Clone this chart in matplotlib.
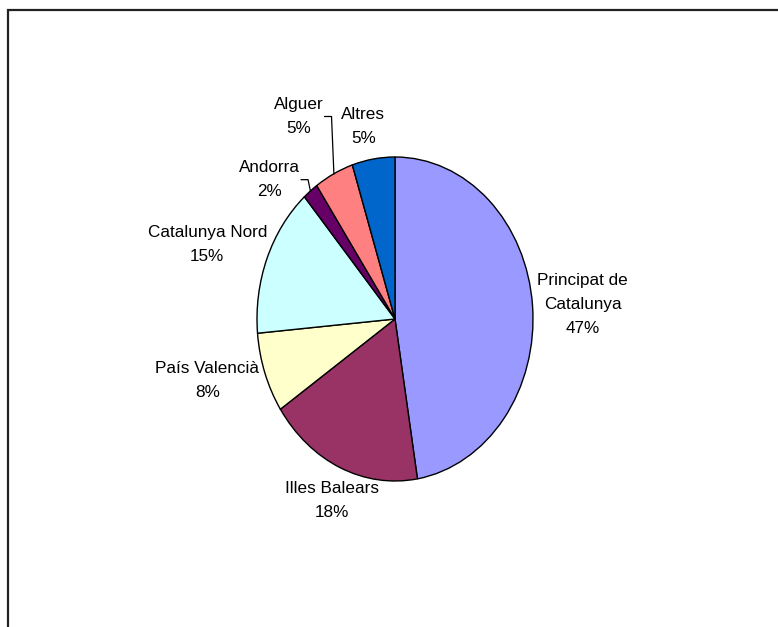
import numpy as np
import matplotlib.pyplot as plt
from matplotlib.patches import Rectangle

plt.rcParams['font.family'] = ['Liberation Sans', 'DejaVu Sans']

# dades
regions = ['Principat de\nCatalunya', 'Illes Balears', 'País Valencià',
           'Catalunya Nord', 'Andorra', 'Alguer', 'Altres']
shares = [47.4, 18.2, 8.0, 15.0, 1.8, 4.6, 5.0]
colors = ['#9999FF', '#993366', '#FFFFCC', '#CCFFFF', '#660066', '#FF8080', '#0066CC']

# posicio de les etiquetes (en radis del pastis) i si porten linia guia
label_pos = [(1.36, 0.09), (-0.46, -1.12), (-1.36, -0.38), (-1.36, 0.46),
             (-0.91, 0.86), (-0.70, 1.25), (-0.23, 1.19)]
leader_x = [None, None, None, None, -0.68, -0.51, None]

W, H = 778, 627
fig = plt.figure(figsize=(W / 100, H / 100), dpi=100)
# pastis una mica allargat en vertical (rx=138px, ry=162px)
rx, ry = 138, 162
cx, cy = 395, H - 319
ax = fig.add_axes([(cx - 1.25 * rx) / W, (cy - 1.25 * ry) / H, 2.5 * rx / W, 2.5 * ry / H])

wedges, _ = ax.pie(shares, colors=colors, startangle=90, counterclock=False,
                   wedgeprops=dict(edgecolor='black', linewidth=1.0))
ax.set_aspect('auto')
ax.set_xlim(-1.25, 1.25)
ax.set_ylim(-1.25, 1.25)
ax.axis('off')

total = sum(shares)
for w, name, v, (lx, ly), kx in zip(wedges, regions, shares, label_pos, leader_x):
    ax.text(lx, ly, '%s\n%d%%' % (name, round(100 * v / total)), ha='center', va='center',
            fontsize=12.3, linespacing=1.78, color='black')
    if kx is not None:
        mid = np.deg2rad((w.theta1 + w.theta2) / 2)
        px, py = np.cos(mid), np.sin(mid)
        ax.plot([kx, kx + 0.05, px], [ly, ly, py], color='black', lw=0.9, clip_on=False)

# marc de la figura (nomes es veuen la vora superior i l'esquerra)
fig.add_artist(Rectangle((7.5 / W, -0.1), 1.2, 1.1 - 9.5 / H, transform=fig.transFigure,
                         fill=False, edgecolor='#222222', linewidth=1.6))

fig.savefig('out.png', dpi=100)
